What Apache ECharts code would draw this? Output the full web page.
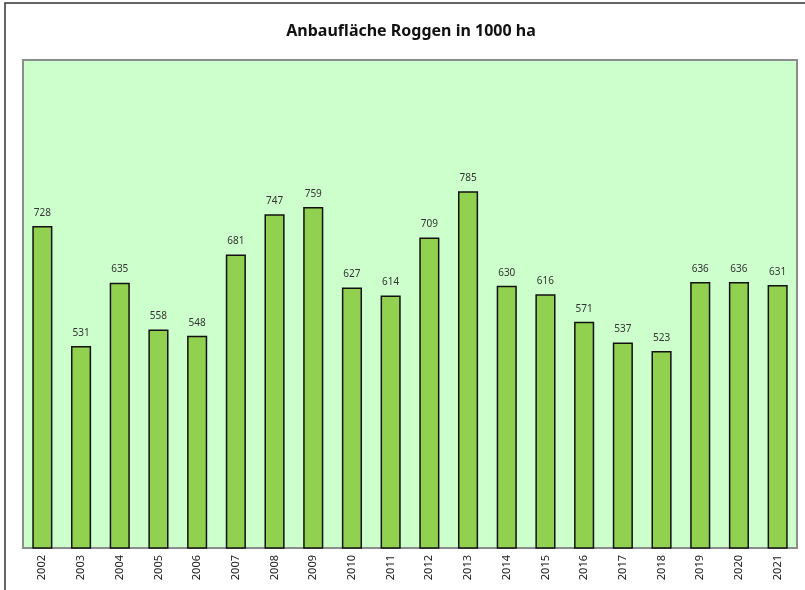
<!DOCTYPE html>
<html>
<head>
<meta charset="utf-8">
<script src="https://cdn.jsdelivr.net/npm/echarts@6/dist/echarts.min.js"></script>
<style>
  html, body { margin: 0; padding: 0; background: #fff; }
  #chart { width: 805px; height: 590px; }
</style>
</head>
<body>
<div id="chart"></div>
<script>
const years = ['2002', '2003', '2004', '2005', '2006', '2007', '2008', '2009', '2010', '2011',
  '2012', '2013', '2014', '2015', '2016', '2017', '2018', '2019', '2020', '2021']
const flaeche = [728, 531, 635, 558, 548, 681, 747, 759, 627, 614,
  709, 785, 630, 616, 571, 537, 523, 636, 636, 631]

const chart = echarts.init(document.getElementById('chart'), null, { renderer: 'canvas' })

const option = {
  animation: false,
  backgroundColor: '#fff',
  textStyle: { fontFamily: 'Noto Sans' },
  title: {
    text: 'Anbaufläche Roggen in 1000 ha',
    left: 411,
    textAlign: 'center',
    top: 18,
    textStyle: { fontSize: 16, fontWeight: 'bold', color: '#111', fontFamily: 'Noto Sans' }
  },
  // äußerer Rahmen (rechts/unten außerhalb des Bildes)
  graphic: [{
    type: 'rect',
    shape: { x: 5, y: 3, width: 900, height: 700 },
    style: { fill: 'none', stroke: '#333', lineWidth: 1.5 },
    silent: true
  }],
  grid: {
    left: 23,
    right: 8,
    top: 60,
    bottom: 42,
    show: true,
    backgroundColor: '#CCFFCC',
    borderColor: '#8c8c8c',
    borderWidth: 2
  },
  xAxis: {
    type: 'category',
    data: years,
    axisLine: { lineStyle: { color: '#8c8c8c', width: 2 } },
    axisTick: { show: false },
    axisLabel: {
      rotate: 90,
      color: '#222',
      fontSize: 11,
      margin: 7,
      interval: 0
    }
  },
  yAxis: {
    type: 'value',
    min: 200,
    max: 1000,
    show: false,
    splitLine: { show: false }
  },
  series: [{
    type: 'bar',
    data: flaeche,
    barWidth: '52%',
    itemStyle: {
      color: '#92D050',
      borderColor: '#111',
      borderWidth: 1.5
    },
    label: {
      show: true,
      position: 'top',
      distance: 8,
      fontSize: 10,
      color: '#333'
    }
  }]
}

// Titel leicht nach links, wie im Original
option.title.left = 406

chart.setOption(option)
window.addEventListener('resize', function () {
  chart.resize()
})
</script>
</body>
</html>
